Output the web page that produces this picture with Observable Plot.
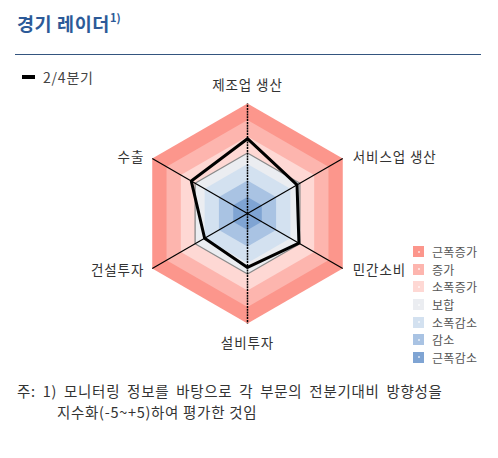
<!DOCTYPE html>
<html><head><meta charset="utf-8">
<script src="https://cdn.jsdelivr.net/npm/d3@7"></script>
<script src="https://cdn.jsdelivr.net/npm/@observablehq/plot@0.6"></script>
<style>
  body{margin:0;background:#fff;width:498px;height:458px;position:relative;overflow:hidden;font-family:"Noto Sans CJK KR","Noto Sans",sans-serif;}
  #title{position:absolute;left:17px;top:10px;font-size:18.5px;font-weight:bold;color:#2c5a98;letter-spacing:0.6px;}
  #title sup{font-size:11px;position:relative;top:-2px;letter-spacing:0;}
  #rule{position:absolute;left:15px;top:54px;width:466px;height:0;border-top:1px solid #34557f;}
  #chart{position:absolute;left:0;top:60px;}
  #chart text{letter-spacing:0.9px;}
  #serieslegend{position:absolute;left:22px;top:67px;font-size:14px;color:#444;display:flex;align-items:center;letter-spacing:0.8px;}
  #serieslegend .bar{width:13px;height:3.5px;background:#000;margin-right:8px;}
  #bandlegend{position:absolute;left:413px;top:243px;font-size:12px;color:#555;letter-spacing:0.3px;}
  #bandlegend .row{display:flex;align-items:center;height:17.6px;}
  #bandlegend .sw{width:11px;height:11px;margin-right:8px;position:relative;}
  #bandlegend .sw::after{content:"";position:absolute;left:4.5px;top:4.5px;width:2px;height:2px;background:rgba(255,255,255,0.55);}
  #note{position:absolute;left:17px;top:380px;font-size:14.5px;color:#333;line-height:21px;letter-spacing:0.7px;}
  #note .l1{word-spacing:3px;}
  #note .l2{padding-left:40px;}
</style>
</head><body>
<div id="title">경기 레이더<sup>1)</sup></div>
<div id="rule"></div>
<div id="serieslegend"><span class="bar"></span><span id="seriesname"></span></div>
<div id="chart"></div>
<div id="bandlegend"></div>
<div id="note"><div class="l1">주: 1) 모니터링 정보를 바탕으로 각 부문의 전분기대비 방향성을</div><div class="l2">지수화(-5~+5)하여 평가한 것임</div></div>
<script>
// ---- data ----
const axes = ["제조업 생산", "서비스업 생산", "민간소비", "설비투자", "건설투자", "수출"];
const seriesName = "2/4분기";
const values = [1.8, 0.2, 0.4, -0.1, -0.5, 0.9];
const bandNames = ["근폭증가", "증가", "소폭증가", "보합", "소폭감소", "감소", "근폭감소"];
const bandUpper = [5, 3.5, 2, 0.5, -0.5, -2, -3.5];
const bandColors = ["#fc968c", "#fdb5ae", "#fed8d4", "#ebedf1", "#d3e1f0", "#a9c3e3", "#7fa4d3"];
const refLevel = 0.5;
const scaleMin = -5, scaleMax = 5;

// ---- geometry helpers (polar -> cartesian in data units) ----
const angle = i => Math.PI / 2 - i * Math.PI / 3;
const pt = (i, v) => { const r = v - scaleMin; return {x: r * Math.cos(angle(i)), y: r * Math.sin(angle(i))}; };
const ring = v => axes.map((a, i) => pt(i, v));

const pxPerUnit = 11;
const W = 498, H = 310, cx = 247, cy = 153;

const marks = [];
bandUpper.forEach((u, k) => {
  marks.push(Plot.line(ring(u), {x: "x", y: "y", fill: bandColors[k], stroke: "none", curve: "linear-closed"}));
});
marks.push(Plot.line(ring(refLevel), {x: "x", y: "y", stroke: "#8a8a8a", strokeWidth: 1.3, curve: "linear-closed"}));
const spokes = axes.map((a, i) => ({vertical: Math.abs(Math.cos(angle(i))) < 0.01, x1: 0, y1: 0, x2: pt(i, scaleMax).x, y2: pt(i, scaleMax).y}));
marks.push(Plot.link(spokes.filter(d => !d.vertical), {x1: "x1", y1: "y1", x2: "x2", y2: "y2", stroke: "#000", strokeWidth: 1.2}));
marks.push(Plot.link(spokes.filter(d => d.vertical), {x1: "x1", y1: "y1", x2: "x2", y2: "y2", stroke: "#000", strokeWidth: 1.5, strokeDasharray: "2,0.8"}));
const series = axes.map((a, i) => ({axis: a, ...pt(i, values[i])}));
marks.push(Plot.line(series, {x: "x", y: "y", stroke: "#000", strokeWidth: 3, strokeLinejoin: "miter", curve: "linear-closed"}));

const labels = axes.map((a, i) => {
  const p = pt(i, scaleMax);
  const c = Math.cos(angle(i)), s = Math.sin(angle(i));
  const anchor = Math.abs(c) < 0.01 ? "middle" : (c > 0 ? "start" : "end");
  return {label: a, x: p.x, y: p.y, anchor, dx: anchor === "middle" ? 0 : (c > 0 ? 10 : -8), dy: anchor === "middle" ? (s > 0 ? -18 : 20) : (s > 0 ? -1 : 2)};
});
const font = {fontFamily: '"Noto Sans CJK KR", sans-serif', fontSize: 13.5, fill: "#333"};
for (const d of labels) {
  marks.push(Plot.text([d], {x: "x", y: "y", text: "label", textAnchor: d.anchor, dx: d.dx, dy: d.dy, ...font}));
}

const chart = Plot.plot({
  width: W, height: H, margin: 0,
  x: {domain: [-cx / pxPerUnit, (W - cx) / pxPerUnit], range: [0, W], axis: null},
  y: {domain: [-(H - cy) / pxPerUnit, cy / pxPerUnit], range: [H, 0], axis: null},
  style: {background: "transparent", overflow: "visible"},
  marks
});
document.getElementById("chart").appendChild(chart);

document.getElementById("seriesname").textContent = seriesName;
const bl = document.getElementById("bandlegend");
bandNames.forEach((n, k) => {
  const row = document.createElement("div");
  row.className = "row";
  row.innerHTML = `<span class="sw" style="background:${bandColors[k]}"></span><span>${n}</span>`;
  bl.appendChild(row);
});
</script>
</body></html>
